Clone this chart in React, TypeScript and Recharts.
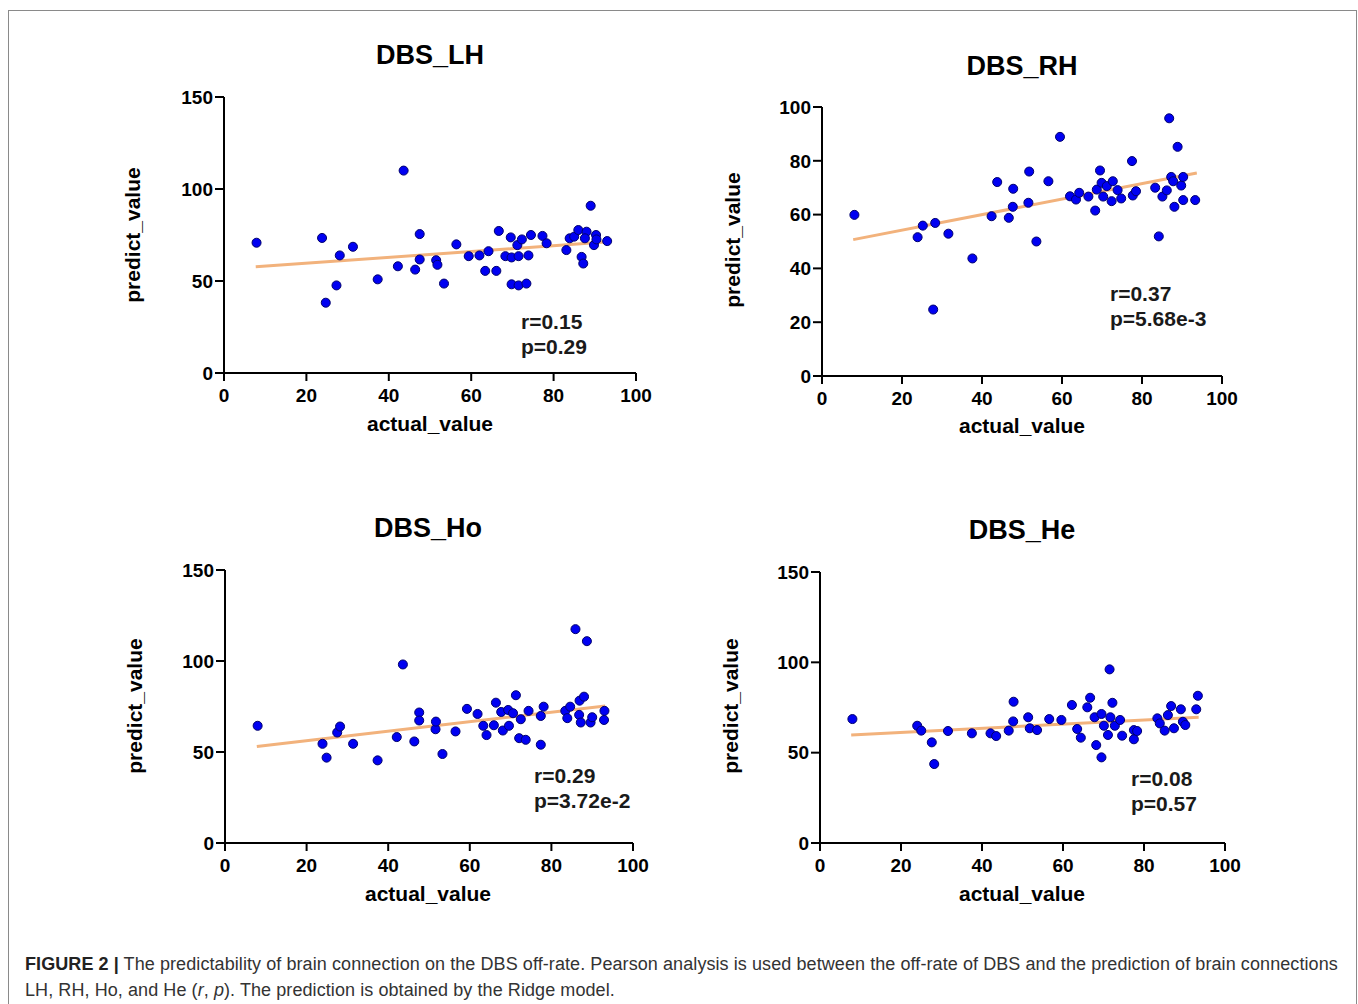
import React from 'react'
import { ScatterChart, Scatter, XAxis, YAxis, ZAxis, ReferenceLine } from 'recharts'

// actual_value (x) / predict_value (y)
const lhX = [7.9,23.8,24.7,27.3,28.1,31.3,37.3,42.2,43.6,46.4,47.5,47.5,51.5,51.8,53.4,56.4,59.4,62.0,63.4,64.2,66.1,66.7,68.3,69.6,69.8,69.8,71.2,71.5,72.3,71.5,73.4,73.9,74.5,77.3,78.3,83.1,83.9,85.0,86.0,86.8,87.2,88.0,89.0,87.6,89.8,90.3,90.4,93.0]
const lhY = [70.8,73.4,38.2,47.6,63.9,68.6,50.9,58.0,110.0,56.2,75.5,61.7,61.3,58.8,48.6,69.9,63.5,63.9,55.5,66.2,55.5,77.2,63.5,73.7,62.8,48.2,69.5,47.6,72.6,63.5,48.6,63.9,75.0,74.5,70.5,66.8,73.2,74.1,77.7,63.1,59.5,76.8,90.9,73.2,69.5,75.0,72.6,71.7]
const lhFitX = [7.7, 93.3]
const lhFitY = [57.7, 71.3]

const rhX = [8.1,23.9,25.2,27.8,28.3,31.6,37.6,42.4,43.8,46.7,47.7,47.8,51.6,51.8,53.6,56.6,59.5,62.0,63.5,64.3,66.6,68.3,68.7,69.5,69.9,70.3,71.2,72.4,72.7,73.9,74.8,77.5,77.7,78.5,83.3,84.2,85.1,86.2,86.8,87.3,88.1,88.9,89.8,90.3,90.3,93.3,87.8]
const rhY = [59.9,51.6,55.9,24.7,56.9,52.9,43.7,59.4,72.1,58.8,62.9,69.6,64.4,76.0,50.0,72.4,88.9,66.8,65.6,68.1,66.7,61.5,69.3,76.4,71.8,66.7,70.6,65.0,72.4,69.1,66.0,79.9,67.1,68.7,70.0,51.9,66.7,69.0,95.8,74.0,62.9,85.2,70.8,65.4,74.0,65.4,72.4]
const rhFitX = [7.8, 93.7]
const rhFitY = [50.7, 75.5]

const hoX = [8.0,23.9,24.9,27.5,28.2,31.4,37.4,42.1,43.6,46.4,47.6,47.6,51.6,51.7,53.3,56.5,59.3,61.9,63.3,64.1,65.9,66.4,67.7,68.1,69.4,69.6,70.6,71.3,72.1,72.5,73.7,74.4,77.4,77.4,78.1,83.4,83.9,84.6,85.9,86.8,86.9,87.2,88.0,88.7,89.6,90.0,92.9,93.0]
const hoY = [64.4,54.5,46.9,60.7,64.0,54.5,45.4,58.2,98.1,55.8,71.7,67.3,62.5,66.7,48.9,61.3,73.7,70.9,64.4,59.3,64.7,77.1,72.0,61.8,73.1,64.4,71.3,81.2,57.6,68.0,56.7,72.6,54.0,69.8,74.9,72.6,68.6,74.9,117.5,70.4,78.2,66.2,80.4,110.9,66.2,69.1,67.6,72.6]
const hoFitX = [7.8, 93.2]
const hoFitY = [53.0, 75.3]

const heX = [8.0,24.0,25.0,27.6,28.2,31.6,37.5,42.1,43.5,46.6,47.7,47.8,51.4,51.8,53.6,56.6,59.6,62.2,63.5,64.4,66.0,66.7,68.2,69.5,67.8,69.5,70.1,71.1,71.5,71.7,72.2,72.8,74.1,74.6,77.5,77.5,78.3,83.3,83.9,85.1,85.9,86.7,87.4,89.1,89.6,90.2,92.9,93.3]
const heY = [68.6,64.9,62.2,55.7,43.7,62.0,60.7,60.7,59.2,62.2,67.3,78.2,69.6,63.5,62.5,68.6,68.1,76.4,63.1,58.3,75.1,80.4,54.2,47.4,69.6,71.4,64.9,59.8,96.1,69.6,77.6,64.9,68.1,59.4,57.4,62.5,62.0,69.0,66.2,62.2,70.8,75.8,63.5,74.0,67.1,65.3,74.0,81.5]
const heFitX = [7.7, 93.5]
const heFitY = [59.8, 69.6]

const xTicks = [0, 20, 40, 60, 80, 100]
const y150Ticks = [0, 50, 100, 150]
const y100Ticks = [0, 20, 40, 60, 80, 100]

const FONT = '"Liberation Sans", Arial, sans-serif'
const tickStyle = { fill: '#000', fontSize: 19, fontWeight: 'bold', fontFamily: FONT }

const abs = (x: number, y: number, extra: any = {}) => ({
  position: 'absolute' as const, left: x, top: y, transform: 'translate(-50%,-50%)', whiteSpace: 'nowrap' as const, ...extra,
})

function Panel({ xs, ys, fx, fy, yMax, yTicks, box, title, r, p }: any) {
  const [L, T, R, B] = box.plot
  const yw = 70, xh = 50, mt = 14, mr = 30
  const pts = xs.map((x: number, i: number) => ({ x, y: ys[i] }))
  return (
    <>
      <div style={{ position: 'absolute', left: L - yw, top: T - mt }}>
        <ScatterChart width={R - L + yw + mr} height={B - T + mt + xh} margin={{ top: mt, right: mr, bottom: 0, left: 0 }}>
          <XAxis type="number" dataKey="x" domain={[0, 100]} ticks={xTicks} interval={0} height={xh}
            tickSize={8} tickMargin={8} tick={tickStyle}
            axisLine={{ stroke: '#000', strokeWidth: 2 }} tickLine={{ stroke: '#000', strokeWidth: 2 }} />
          <YAxis type="number" dataKey="y" domain={[0, yMax]} ticks={yTicks} interval={0} width={yw}
            tickSize={9} tickMargin={2} tick={tickStyle}
            axisLine={{ stroke: '#000', strokeWidth: 2 }} tickLine={{ stroke: '#000', strokeWidth: 2 }} />
          <ZAxis range={[135, 135]} />
          <Scatter data={pts} fill="#0000f2" stroke="#00006e" strokeWidth={1} isAnimationActive={false} />
          <ReferenceLine segment={[{ x: fx[0], y: fy[0] }, { x: fx[1], y: fy[1] }]} stroke="#f2b27c" strokeWidth={3} ifOverflow="visible" />
        </ScatterChart>
      </div>
      <div style={abs(box.title[0], box.title[1], { fontSize: 27, fontWeight: 'bold' })}>{title}</div>
      <div style={abs(box.xl[0], box.xl[1], { fontSize: 21, fontWeight: 'bold' })}>actual_value</div>
      <div style={abs(box.yl[0], box.yl[1], { fontSize: 21, fontWeight: 'bold', transform: 'translate(-50%,-50%) rotate(-90deg)' })}>predict_value</div>
      <div style={{ position: 'absolute', left: box.ann[0], top: box.ann[1] - 13, fontSize: 21, fontWeight: 'bold', color: '#1a1a1a', lineHeight: '25px' }}>
        <div>{r}</div>
        <div>{p}</div>
      </div>
    </>
  )
}

const layout = {
  lh: { plot: [224, 97, 636, 373], title: [430, 55], xl: [430, 424], yl: [133, 235], ann: [521, 322] },
  rh: { plot: [822, 107, 1222, 376], title: [1022, 66], xl: [1022, 426], yl: [733, 240], ann: [1110, 294] },
  ho: { plot: [225, 570, 633, 843], title: [428, 528], xl: [428, 894], yl: [135, 706], ann: [534, 776] },
  he: { plot: [820, 572, 1225, 843], title: [1022, 530], xl: [1022, 894], yl: [731, 706], ann: [1131, 779] },
}

export default function App() {
  return (
    <div style={{ position: 'absolute', left: 0, top: 0, width: 1358, height: 1004, background: '#fff', fontFamily: FONT, color: '#000', overflow: 'hidden' }}>
      <div style={{ position: 'absolute', left: 8, top: 10, width: 1347, height: 1000, border: '1px solid #8a8a8a' }} />
      <Panel xs={lhX} ys={lhY} fx={lhFitX} fy={lhFitY} yMax={150} yTicks={y150Ticks} box={layout.lh} title="DBS_LH" r="r=0.15" p="p=0.29" />
      <Panel xs={rhX} ys={rhY} fx={rhFitX} fy={rhFitY} yMax={100} yTicks={y100Ticks} box={layout.rh} title="DBS_RH" r="r=0.37" p="p=5.68e-3" />
      <Panel xs={hoX} ys={hoY} fx={hoFitX} fy={hoFitY} yMax={150} yTicks={y150Ticks} box={layout.ho} title="DBS_Ho" r="r=0.29" p="p=3.72e-2" />
      <Panel xs={heX} ys={heY} fx={heFitX} fy={heFitY} yMax={150} yTicks={y150Ticks} box={layout.he} title="DBS_He" r="r=0.08" p="p=0.57" />
      <div style={{ position: 'absolute', left: 25, top: 951, fontSize: 18, letterSpacing: '0.08px', lineHeight: '26px', color: '#333', whiteSpace: 'nowrap' }}>
        <div><b style={{ color: '#222' }}>FIGURE 2 |</b> The predictability of brain connection on the DBS off-rate. Pearson analysis is used between the off-rate of DBS and the prediction of brain connections</div>
        <div>LH, RH, Ho, and He (<i>r</i>, <i>p</i>). The prediction is obtained by the Ridge model.</div>
      </div>
    </div>
  )
}
